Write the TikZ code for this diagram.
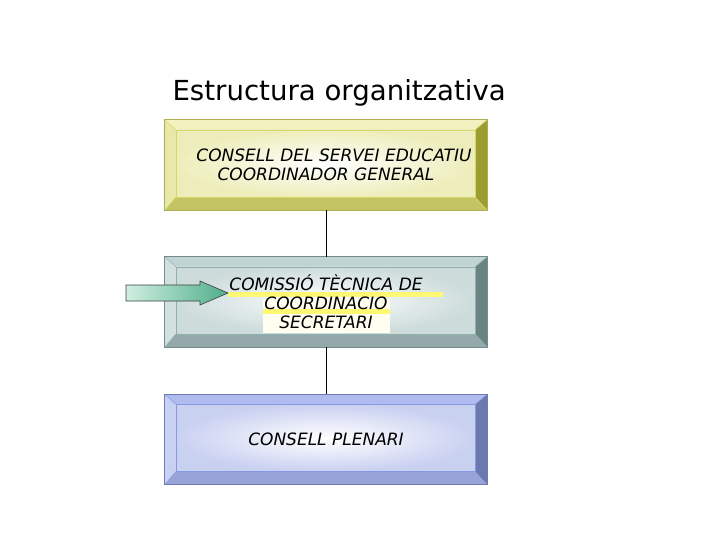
\documentclass[tikz,border=0pt]{standalone}
\usepackage{fontspec}
\setmainfont{DejaVu Sans}
\usetikzlibrary{calc,backgrounds}
\tikzset{
    BX/.style ={rectangle,minimum width = 322pt, minimum height = 90pt, inner sep=0pt, align=center,
                font=\itshape\fontsize{17}{19}\selectfont},
    LN/.style ={line width=0.7pt},
    HL/.style ={fill=yellow!55!white},
    PL/.style ={fill=yellow!6!white}}
% beveled box: node, top, left, right, bottom, face/edge colour
\newcommand\bevelbox[6]{
        \coordinate (o1) at (#1.north west);
        \coordinate (o2) at (#1.north east);
        \coordinate (o3) at (#1.south east);
        \coordinate (o4) at (#1.south west);
        \coordinate (i1) at ($(o1)+(11,10)$);
        \coordinate (i2) at ($(o2)+(-12,10)$);
        \coordinate (i3) at ($(o3)+(-12,-13)$);
        \coordinate (i4) at ($(o4)+(11,-13)$);
        \fill[#2] (o1)--(o2)--(i2)--(i1)--cycle;
        \fill[#3] (o1)--(i1)--(i4)--(o4)--cycle;
        \fill[#4] (o2)--(o3)--(i3)--(i2)--cycle;
        \fill[#5] (o4)--(i4)--(i3)--(o3)--cycle;
        \shade[inner color=white, outer color=#6!45!white] (i1) rectangle (i3);
        \draw[#6, line width=0.5pt] (o1) -- (i1) (o2) -- (i2) (o3) -- (i3) (o4) -- (i4);
        \draw[#6, line width=0.5pt] (i1) rectangle (i3);
        \draw[#6!80!black, line width=0.8pt] (o1) rectangle (o3);}
\definecolor{yT}{HTML}{F2F2C0}
\definecolor{yL}{HTML}{E8E8A8}
\definecolor{yR}{HTML}{9C9C30}
\definecolor{yB}{HTML}{C4C464}
\definecolor{yF}{HTML}{D8D868}
\definecolor{gT}{HTML}{C0D4D4}
\definecolor{gL}{HTML}{D2E0E0}
\definecolor{gR}{HTML}{6A8484}
\definecolor{gB}{HTML}{94AAAA}
\definecolor{gF}{HTML}{90B0B0}
\definecolor{bT}{HTML}{B0BCF0}
\definecolor{bL}{HTML}{C8D0F4}
\definecolor{bR}{HTML}{6C78B0}
\definecolor{bB}{HTML}{98A4D8}
\definecolor{bF}{HTML}{8898E0}
\definecolor{arL}{HTML}{D0EEE0}
\definecolor{arR}{HTML}{4EAE8A}
\begin{document}
\begin{tikzpicture}[x=1pt,y=-1pt]
        \useasboundingbox (0,0) rectangle (720,540);
        \node[anchor=base west, font=\fontsize{27.6}{30}\selectfont] (title) at (169,101) {Estructura organitzativa};
        \node[BX] (consell) at (326,165) {\hspace*{16pt}CONSELL DEL SERVEI EDUCATIU\\COORDINADOR GENERAL};
        \node[BX] (comissio) at (326,302) {COMISSIÓ TÈCNICA DE\\COORDINACIO\\SECRETARI};
        \node[BX] (plenari) at (326,439.5) {CONSELL PLENARI};
        \begin{scope}[on background layer]
            \bevelbox{consell}{yT}{yL}{yR}{yB}{yF}
            \bevelbox{comissio}{gT}{gL}{gR}{gB}{gF}
            \bevelbox{plenari}{bT}{bL}{bR}{bB}{bF}
            \fill[PL] (263,299) rectangle (390,333);
            \fill[HL] (228,292) rectangle (443,297);
            \fill[HL] (263,309) rectangle (390,314);
        \end{scope}
        \draw[LN] (consell.south) -- (comissio.north);
        \draw[LN] (comissio.south) -- (plenari.north);
        \coordinate (tip) at (228,293);
        \draw[left color=arL, right color=arR, draw=black!75, line width=0.6pt]
            (126,285) -- (200,285) -- (200,281) -- (tip) -- (200,305) -- (200,301) -- (126,301) -- cycle;
    \end{tikzpicture}
\end{document}
